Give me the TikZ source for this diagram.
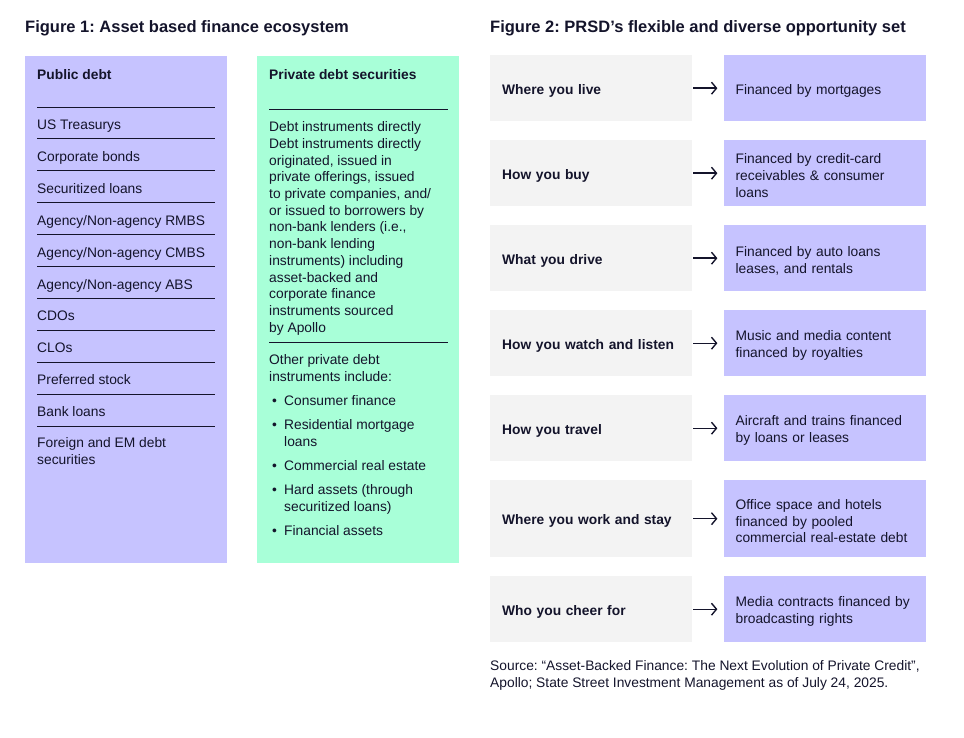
\documentclass[tikz,border=0pt]{standalone}
\usepackage{fontspec}
\setmainfont{Liberation Sans}
\usetikzlibrary{positioning,arrows.meta}
\frenchspacing

\definecolor{pubfill}{HTML}{C6C3FF}
\definecolor{privfill}{HTML}{A8FFD8}
\definecolor{askfill}{HTML}{F3F3F3}
\definecolor{ink}{HTML}{14142B}
\newcommand{\bodyfont}{\fontsize{13.8}{16.7}\selectfont}

\begin{document}
\begin{tikzpicture}[x=1pt, y=-1pt, >={Straight Barb[length=5pt,width=12pt]},
	head/.style={font=\fontsize{16.5}{20}\selectfont\bfseries, text=ink, anchor=west, inner sep=0, text height=0.7em, text depth=0.2em, yshift=-3.5pt},
	subhead/.style={font=\bodyfont\bfseries, text=ink, anchor=west, inner sep=0, text height=0.7em, text depth=0.2em, yshift=-3pt},
	item/.style={font=\bodyfont, text=ink, anchor=west, inner sep=0, text height=0.7em, text depth=0.2em, yshift=-3pt},
	para/.style={font=\bodyfont, text=ink, anchor=north west, inner sep=0, align=left, yshift=-2pt},
	rule/.style={draw=ink, line width=0.8pt},
	ask/.style={fill=askfill, font=\bodyfont\bfseries, text=ink, minimum width=202, text width=178, inner xsep=12, inner ysep=0, align=left, execute at begin node={\rule{0pt}{15pt}}},
	fin/.style={fill=pubfill, font=\bodyfont, text=ink, minimum width=202, text width=178, inner xsep=12, inner ysep=0, align=left, execute at begin node={\rule{0pt}{15pt}}},
	arr/.style={->, draw=ink, line width=1.4pt, shorten <=1pt, shorten >=6pt}]

	\useasboundingbox (0,0) rectangle (964,738);

	% Figure 1: the two columns
	\node[head] (title1) at (25,27) {Figure 1: Asset based finance ecosystem};
	\node[fill=pubfill, minimum width=202, minimum height=507, anchor=north west, inner sep=0] (pub) at (25,56) {};
	\node[fill=privfill, minimum width=202, minimum height=507, anchor=north west, inner sep=0] (priv) at (257,56) {};

	% public debt list
	\node[subhead] (pubhead) at (37,74) {Public debt};
	\foreach \k in {0,...,10}
		\draw[rule] (37,107+31.9*\k) -- ++(178,0);
	\foreach \t [count=\k from 0] in {US Treasurys, Corporate bonds, Securitized loans,
		Agency/Non-agency RMBS, Agency/Non-agency CMBS, Agency/Non-agency ABS,
		CDOs, CLOs, Preferred stock, Bank loans}
		\node[item] (pub\k) at (37,124+31.9*\k) {\t};
	\node[para] (pub10) at (37,435.5) {Foreign and EM debt\\securities};

	% private debt securities
	\node[subhead] (privhead) at (269,74) {Private debt securities};
	\draw[rule] (269,109) -- (448,109);
	\node[para] (privtext) at (269,119.5) {Debt instruments directly\\Debt instruments directly\\originated, issued in\\private offerings, issued\\to private companies, and/\\or issued to borrowers by\\non-bank lenders (i.e.,\\non-bank lending\\instruments) including\\asset-backed and\\corporate finance\\instruments sourced\\by Apollo};
	\draw[rule] (269,342) -- (448,342);
	\node[para] (othertext) at (269,352.5) {Other private debt\\instruments include:};
	\foreach \y/\t [count=\k] in {400/{Consumer finance}, 424/{Residential mortgage\\loans},
		465/{Commercial real estate}, 489/{Hard assets (through\\securitized loans)}, 530/{Financial assets}}{
		\node[item] (dot\k) at (272,\y) {\textbullet};
		\node[para] (other\k) at (284,\y-6.5) {\t};
	}

	% Figure 2: opportunity rows
	\node[head] (title2) at (490,27) {Figure 2: PRSD’s flexible and diverse opportunity set};
	\foreach \i/\top/\h/\lft/\rgt in {
		1/55/66/{Where you live}/{Financed by mortgages},
		2/140/66/{How you buy}/{Financed by credit-card\\receivables \& consumer\\loans},
		3/225/66/{What you drive}/{Financed by auto loans\\leases, and rentals},
		4/310/66/{How you watch and listen}/{Music and media content\\financed by royalties},
		5/395/66/{How you travel}/{Aircraft and trains financed\\by loans or leases},
		6/480/77/{Where you work and stay}/{Office space and hotels\\financed by pooled\\commercial real-estate debt},
		7/576/66/{Who you cheer for}/{Media contracts financed by\\broadcasting rights}}{
		\node[ask, minimum height=\h, anchor=north west] (q\i) at (490,\top) {\lft};
		\node[fin, minimum height=\h, right=31pt of q\i] (f\i) {\rgt};
		\path (q\i) edge[arr] (f\i);
	}

	\node[para, font=\fontsize{13.8}{17}\selectfont] (source) at (490,658.5) {Source: “Asset-Backed Finance: The Next Evolution of Private Credit”,\\Apollo; State Street Investment Management as of July 24, 2025.};

\end{tikzpicture}
\end{document}
